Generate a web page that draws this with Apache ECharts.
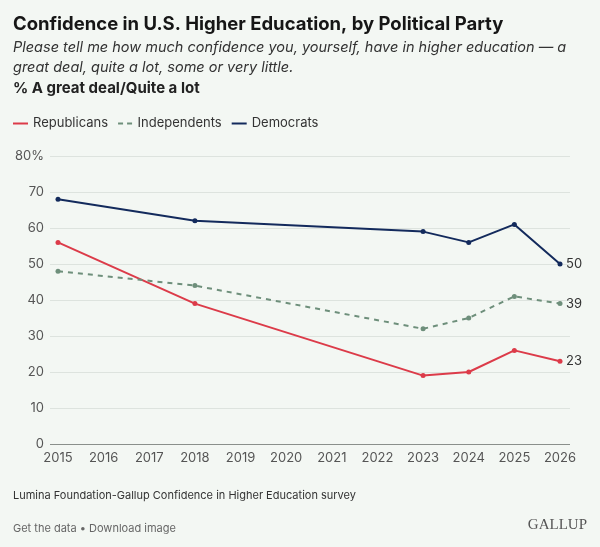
<!DOCTYPE html>
<html>
<head>
<meta charset="utf-8">
<script src="https://cdn.jsdelivr.net/npm/echarts@6/dist/echarts.min.js"></script>
<style>
  html, body { margin: 0; padding: 0; background: #f3f7f3; }
  #container { width: 600px; height: 547px; }
</style>
</head>
<body>
<div id="container"></div>
<script>
// survey years and % "a great deal/quite a lot"
var years = [2015, 2018, 2023, 2024, 2025, 2026];
var republicans = [56, 39, 19, 20, 26, 23];
var independents = [48, 44, 32, 35, 41, 39];
var democrats = [68, 62, 59, 56, 61, 50];

var colors = ['#dc3b49', '#6e8f7b', '#132a5c'];
var font = 'Inter, "Noto Sans", sans-serif';

function pairs(vals) {
    return years.map(function (y, i) { return [y, vals[i]]; });
}

var dom = document.getElementById('container');
var myChart = echarts.init(dom, null, { renderer: 'canvas' });

function lineSeries(name, vals, color, dashed) {
    return {
        name: name,
        type: 'line',
        xAxisIndex: 1,
        yAxisIndex: 1,
        data: pairs(vals),
        symbol: 'circle',
        symbolSize: 5,
        itemStyle: { color: color },
        lineStyle: { color: color, width: 2, type: dashed ? [5, 5] : 'solid' },
        endLabel: {
            show: true,
            distance: 6,
            color: '#333',
            fontFamily: font,
            fontSize: 13,
            formatter: function (p) { return p.value[1]; }
        },
        emphasis: { disabled: true },
        animation: false
    };
}

var option = {
    backgroundColor: '#f3f7f3',
    textStyle: { fontFamily: font },
    title: [
        {
            text: 'Confidence in U.S. Higher Education, by Political Party',
            left: 13, top: 15, padding: 0,
            textStyle: { fontFamily: font, fontSize: 18.5, fontWeight: 'bold', color: '#161616' }
        },
        {
            text: 'Please tell me how much confidence you, yourself, have in higher education — a\ngreat deal, quite a lot, some or very little.',
            left: 13, top: 38, padding: 0,
            textStyle: { fontFamily: font, fontSize: 14.5, fontStyle: 'italic', fontWeight: 'normal', color: '#333', lineHeight: 20 }
        },
        {
            text: '% A great deal/Quite a lot',
            left: 13, top: 81, padding: 0,
            textStyle: { fontFamily: font, fontSize: 15, fontWeight: 'bold', color: '#222' }
        },
        {
            text: 'Lumina Foundation-Gallup Confidence in Higher Education survey',
            left: 13, top: 490, padding: 0,
            textStyle: { fontFamily: font, fontSize: 11, fontWeight: 'normal', color: '#333' }
        },
        {
            text: 'Get the data • Download image',
            left: 13, top: 523, padding: 0,
            textStyle: { fontFamily: font, fontSize: 11, fontWeight: 'normal', color: '#666' }
        },
        {
            text: 'GALLUP',
            right: 13, top: 518, padding: 0,
            textStyle: { fontFamily: '"Liberation Serif", serif', fontSize: 15, fontWeight: 'normal', color: '#555' }
        }
    ],
    legend: {
        left: 13, top: 117, padding: 0,
        itemWidth: 15, itemHeight: 2,
        itemGap: 10,
        textStyle: { fontFamily: font, fontSize: 13, color: '#333' },
        data: [
            { name: 'Republicans', icon: 'rect' },
            { name: 'Independents', icon: 'path://M0,0h5v2h-5zM9,0h5v2h-5z' },
            { name: 'Democrats', icon: 'rect' }
        ],
        selectedMode: false
    },
    // outer grid carries the gridlines and y labels, inner grid the data
    grid: [
        { left: 50, right: 30, top: 156, bottom: 103 },
        { left: 58, right: 40, top: 156, bottom: 103 }
    ],
    xAxis: [
        {
            gridIndex: 0,
            type: 'value', min: 0, max: 1,
            show: false
        },
        {
            gridIndex: 1,
            type: 'value',
            min: 2015,
            max: 2026,
            interval: 1,
            axisLine: { show: false },
            axisTick: { show: false },
            splitLine: { show: false },
            axisLabel: {
                margin: 8,
                color: '#555',
                fontFamily: font,
                fontSize: 13,
                formatter: function (v) { return String(v); }
            }
        }
    ],
    yAxis: [
        {
            gridIndex: 0,
            type: 'value',
            min: 0,
            max: 80,
            interval: 10,
            axisLine: { show: false },
            axisTick: { show: false },
            axisLabel: {
                margin: 6,
                color: '#555',
                fontFamily: font,
                fontSize: 13,
                formatter: function (v) { return v === 80 ? '80%' : v; }
            },
            splitLine: { lineStyle: { color: '#dde3de', width: 1 } }
        },
        {
            gridIndex: 1,
            type: 'value',
            min: 0,
            max: 80,
            interval: 10,
            show: false
        }
    ],
    series: [
        {
            // baseline at 0
            type: 'line',
            xAxisIndex: 0,
            yAxisIndex: 0,
            data: [],
            markLine: {
                silent: true,
                symbol: 'none',
                label: { show: false },
                lineStyle: { color: '#8a8f8b', width: 1, type: 'solid' },
                data: [{ yAxis: 0 }]
            },
            animation: false
        },
        lineSeries('Republicans', republicans, colors[0], false),
        lineSeries('Independents', independents, colors[1], true),
        lineSeries('Democrats', democrats, colors[2], false)
    ]
};

myChart.setOption(option);
window.addEventListener('resize', myChart.resize);
</script>
</body>
</html>
